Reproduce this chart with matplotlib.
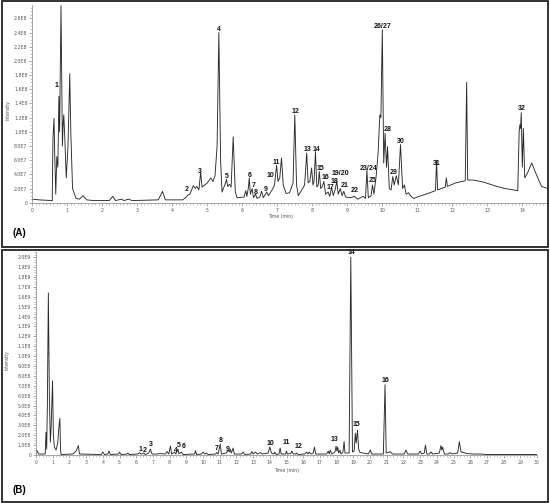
import matplotlib
matplotlib.use("Agg")
import matplotlib.pyplot as plt
from matplotlib.patches import Rectangle
from matplotlib.ticker import MultipleLocator, FuncFormatter
import numpy as np

# ---------------- Panel A data (time in min, intensity in 1E7) ----------------
a_time = [0.0, 0.2, 0.57, 0.59, 0.62, 0.64, 0.67, 0.70, 0.73, 0.76, 0.78, 0.82, 0.86, 0.88, 0.90, 0.93,
          0.97, 1.02, 1.07, 1.10, 1.15, 1.25, 1.35, 1.45, 1.55, 1.75, 2.2, 2.3, 2.38, 2.55, 2.62, 2.75,
          2.85, 3.6, 3.72, 3.8, 4.3, 4.4, 4.45, 4.5, 4.6, 4.66, 4.7, 4.76, 4.81, 4.85, 5.0, 5.1, 5.16,
          5.22, 5.28, 5.33, 5.38, 5.42, 5.50, 5.55, 5.58, 5.63, 5.68, 5.74, 5.80, 5.85, 6.05, 6.10,
          6.13, 6.17, 6.20, 6.23, 6.28, 6.32, 6.38, 6.42, 6.50, 6.55, 6.60, 6.70, 6.75, 6.85, 6.92,
          6.98, 7.02, 7.07, 7.12, 7.17, 7.25, 7.35, 7.45, 7.50, 7.55, 7.60, 7.70, 7.78, 7.84, 7.88,
          7.93, 7.98, 8.02, 8.05, 8.09, 8.13, 8.17, 8.20, 8.24, 8.29, 8.33, 8.38, 8.45, 8.50, 8.55,
          8.60, 8.65, 8.70, 8.74, 8.80, 8.85, 8.90, 8.95, 9.10, 9.20, 9.30, 9.45, 9.52, 9.56, 9.60,
          9.68, 9.72, 9.76, 9.82, 9.88, 9.93, 9.96, 10.0, 10.04, 10.08, 10.12, 10.15, 10.20, 10.25,
          10.30, 10.34, 10.40, 10.46, 10.52, 10.58, 10.63, 10.68, 10.75, 10.82, 10.90, 11.0, 11.3,
          11.52, 11.55, 11.58, 11.80, 11.83, 11.86, 12.1, 12.37, 12.41, 12.44, 12.6, 12.9, 13.2,
          13.5, 13.87, 13.91, 13.93, 13.95, 13.97, 14.0, 14.03, 14.07, 14.15, 14.27, 14.4, 14.55, 14.72]
a_int = [0.5, 0.4, 0.3, 9.0, 11.9, 7.0, 1.2, 6.5, 5.0, 15.0, 10.0, 27.8, 8.0, 11.0, 12.4, 9.0,
         3.5, 8.0, 18.2, 10.0, 2.0, 0.6, 0.5, 1.0, 0.4, 0.3, 0.3, 0.9, 0.3, 0.5, 0.3, 0.5,
         0.3, 0.4, 1.6, 0.4, 0.4, 0.8, 1.1, 1.2, 2.4, 2.0, 2.3, 1.8, 4.3, 2.2, 2.8, 3.5, 3.0,
         3.8, 8.0, 24.0, 6.0, 1.5, 2.5, 3.3, 2.3, 2.6, 2.2, 9.3, 1.5, 0.7, 0.8, 1.7,
         0.9, 2.0, 3.5, 1.2, 2.0, 0.7, 1.2, 0.6, 0.8, 1.6, 0.7, 1.5, 1.0, 1.8, 2.5,
         5.3, 3.0, 3.5, 6.3, 2.5, 1.3, 1.4, 2.8, 12.4, 2.5, 1.0, 1.8, 2.5, 7.0, 2.8,
         3.0, 4.9, 2.5, 3.0, 7.2, 2.2, 2.5, 4.4, 2.0, 2.3, 3.0, 1.2, 1.5, 0.9, 2.2,
         1.0, 1.8, 3.0, 1.2, 2.0, 1.0, 1.6, 0.8, 0.7, 0.9, 0.5, 0.9, 0.6, 4.6, 0.7,
         1.0, 2.5, 1.2, 3.5, 7.0, 12.4, 12.0, 24.4, 5.6, 9.8, 5.0, 7.9, 2.0, 1.8,
         3.7, 2.5, 3.8, 2.5, 8.2, 2.0, 2.5, 1.2, 1.4, 0.9, 0.6, 0.8, 1.3,
         1.7, 6.0, 1.8, 2.2, 3.5, 2.3, 2.8, 3.1, 17.0, 3.2, 3.2, 2.9, 2.4,
         2.0, 1.7, 10.0, 11.0, 10.5, 12.7, 5.0, 10.5, 3.5, 4.2, 5.6, 4.0, 2.3, 2.0]

a_labels = ["1", "2", "3", "4", "5", "6", "7", "8", "9", "10", "11", "12", "13", "14", "15", "16",
            "17", "18", "19/20", "21", "22", "23/24", "25", "26/27", "28", "29", "30", "31", "32"]
a_label_t = [0.70, 4.41, 4.79, 5.34, 5.55, 6.22, 6.31, 6.39, 6.68, 6.79, 6.98, 7.53, 7.86, 8.11, 8.24,
             8.38, 8.51, 8.62, 8.79, 8.91, 9.22, 9.60, 9.73, 10.0, 10.15, 10.31, 10.53, 11.55, 13.98]
a_label_y = [16.6, 1.8, 4.4, 24.4, 3.7, 3.9, 2.4, 1.4, 1.8, 3.8, 5.7, 12.8, 7.45, 7.55, 4.8,
             3.5, 2.1, 3.0, 4.15, 2.4, 1.7, 4.85, 3.1, 24.9, 10.3, 4.25, 8.6, 5.6, 13.3]

# ---------------- Panel B data (time in min, intensity in 1E8) ----------------
b_time = [0.0, 0.03, 0.08, 0.15, 0.55, 0.60, 0.64, 0.68, 0.74, 0.80, 0.86, 0.91, 0.99, 1.04, 1.10,
          1.20, 1.30, 1.38, 1.43, 1.47, 1.50, 2.2, 2.4, 2.54, 2.6, 3.9, 4.0, 4.1, 4.3, 4.37, 4.45,
          4.95, 5.0, 5.1, 5.45, 5.5, 5.6, 6.1, 6.2, 6.3, 6.45, 6.55, 6.75, 6.85, 6.95, 7.3, 7.4,
          7.75, 7.85, 7.95, 8.05, 8.12, 8.3, 8.37, 8.5, 8.56, 8.7, 8.8, 9.5, 9.55, 9.62, 9.9,
          10.0, 10.1, 10.2, 10.3, 10.75, 10.82, 10.9, 11.03, 11.1, 11.4, 11.5, 11.58, 11.63, 11.7,
          11.8, 11.88, 12.3, 12.4, 12.5, 12.85, 12.92, 13.0, 13.15, 13.25, 13.45, 13.55, 13.9,
          14.0, 14.1, 14.25, 14.3, 14.38, 14.55, 14.62, 14.68, 14.95, 15.0, 15.05, 15.25, 15.32,
          15.4, 15.55, 15.6, 15.7, 16.1, 16.2, 16.28, 16.35, 16.45, 16.6, 16.67, 16.75, 17.4,
          17.5, 17.56, 17.62, 17.7, 17.9, 17.97, 18.02, 18.07, 18.12, 18.2, 18.26, 18.38, 18.45,
          18.5, 18.75, 18.85, 18.95, 19.05, 19.12, 19.17, 19.25, 19.32, 19.4, 19.6, 19.9, 20.02,
          20.1, 20.8, 20.9, 20.97, 21.1, 21.2, 21.35, 22.05, 22.15, 22.25, 22.9, 23.0, 23.1,
          23.25, 23.32, 23.4, 23.55, 23.65, 23.75, 24.15, 24.25, 24.3, 24.35, 24.45, 24.7, 24.8,
          24.9, 25.25, 25.35, 25.45, 25.6, 25.8, 26.2, 26.6, 27.0, 30.0]
b_int = [0.1, 0.5, 0.4, 0.1, 0.1, 2.3, 0.6, 5.0, 16.4, 6.0, 1.3, 3.0, 7.5, 2.0, 0.8,
         0.5, 1.2, 3.0, 3.7, 0.5, 0.05, 0.1, 0.4, 0.95, 0.1, 0.05, 0.3, 0.05, 0.1, 0.4, 0.05,
         0.1, 0.3, 0.05, 0.1, 0.2, 0.05, 0.1, 0.25, 0.1, 0.2, 0.05, 0.2, 0.6, 0.1, 0.1, 0.15,
         0.1, 0.35, 0.1, 0.9, 0.1, 0.3, 0.1, 0.6, 0.1, 0.3, 0.05, 0.1, 0.45, 0.05, 0.1,
         0.3, 0.1, 0.2, 0.05, 0.1, 0.25, 0.1, 1.1, 0.1, 0.2, 0.5, 0.3, 0.6, 0.2,
         0.7, 0.1, 0.1, 0.3, 0.05, 0.1, 0.35, 0.1, 0.3, 0.1, 0.25, 0.1, 0.2,
         0.8, 0.2, 0.1, 0.3, 0.05, 0.1, 0.7, 0.1, 0.1, 0.4, 0.1, 0.15, 0.4,
         0.1, 0.1, 0.2, 0.05, 0.1, 0.3, 0.1, 0.3, 0.1, 0.2, 0.8, 0.1, 0.1,
         0.4, 0.1, 0.5, 0.1, 0.3, 0.9, 0.4, 0.8, 0.2, 0.5, 0.1, 0.3, 1.35,
         0.2, 0.2, 20.0, 0.3, 0.4, 2.2, 1.2, 2.5, 0.6, 0.25, 0.2, 0.1, 0.5,
         0.1, 0.1, 7.1, 0.2, 0.25, 0.35, 0.1, 0.1, 0.5, 0.1, 0.1, 0.4, 0.1,
         0.2, 1.0, 0.1, 0.1, 0.3, 0.1, 0.2, 0.95, 0.5, 0.8, 0.1, 0.1, 0.25,
         0.1, 0.2, 1.35, 0.3, 0.25, 0.15, 0.1, 0.1, 0.05, 0.05]

b_labels = ["1", "2", "3", "4", "5", "6", "7", "8", "9", "10", "11", "12", "13", "14", "15", "16"]
b_label_t = [6.23, 6.53, 6.87, 8.37, 8.56, 8.82, 10.82, 11.06, 11.46, 14.01, 15.01, 15.71, 17.9,
             18.86, 19.2, 20.92]
b_label_y = [0.58, 0.5, 1.08, 0.44, 1.0, 0.84, 0.68, 1.5, 0.6, 1.18, 1.25, 0.84, 1.6, 20.5, 3.1, 7.5]

# ---------------- figure ----------------
W, H = 550, 503
fig = plt.figure(figsize=(W / 100, H / 100), dpi=100)

def fbox(x0, y0, x1, y1):
    fig.patches.append(Rectangle((x0 / W, 1 - y1 / H), (x1 - x0) / W, (y1 - y0) / H,
                                 transform=fig.transFigure, fill=False, lw=1.3, ec="#222222"))

fbox(1.5, 1.5, 548, 247)
fbox(1.5, 250, 548, 501.5)

def sci(v, pos=None):
    if v <= 0:
        return "0"
    e = int(np.floor(np.log10(v) + 1e-9))
    m = v / 10 ** e
    return f"{m:.1f}E{e}"

lab_font = dict(family="Liberation Sans", fontsize=5, fontweight="bold", color="#111111")

def style(ax):
    for s in ("top", "right"):
        ax.spines[s].set_visible(False)
    for s in ("left", "bottom"):
        ax.spines[s].set_color("#999999")
        ax.spines[s].set_linewidth(0.6)
    ax.tick_params(which="major", length=2, width=0.5, color="#888888", pad=1.5,
                   labelsize=3.3, labelcolor="#555555")
    ax.tick_params(which="minor", length=1.2, width=0.4, color="#999999")
    ax.yaxis.set_major_formatter(FuncFormatter(sci))

# Panel A
axA = fig.add_axes([32.3 / W, (H - 202.7) / H, 14.72 * 35 / W, 198.1 / H])
axA.plot(a_time, np.array(a_int) * 1e7, color="#2a2a2a", lw=0.65)
axA.set_xlim(0, 14.72)
axA.xaxis.set_major_locator(MultipleLocator(1))
axA.xaxis.set_minor_locator(MultipleLocator(0.1))
axA.yaxis.set_major_locator(MultipleLocator(2e7))
axA.yaxis.set_minor_locator(MultipleLocator(5e6))
style(axA)
axA.set_ylim(0, 2.795e8)
axA.set_xlabel("Time (min)", fontsize=3.3, color="#555555")
axA.xaxis.set_label_coords((280 - 32.3) / 514.5, -0.055)
axA.set_ylabel("Intensity", fontsize=3.3, color="#555555")
axA.yaxis.set_label_coords(-0.043, 0.47)
for s, t, y in zip(a_labels, a_label_t, a_label_y):
    axA.text(t, y * 1e7, s, ha="center", va="center", clip_on=False, **lab_font)

# Panel B
axB = fig.add_axes([36 / W, 48 / H, 501 / W, 202.7 / H])
axB.plot(b_time, np.array(b_int) * 1e8, color="#2a2a2a", lw=0.65)
axB.set_xlim(0, 30)
axB.xaxis.set_major_locator(MultipleLocator(1))
axB.xaxis.set_minor_locator(MultipleLocator(0.2))
axB.yaxis.set_major_locator(MultipleLocator(1e8))
axB.yaxis.set_minor_locator(MultipleLocator(2.5e7))
style(axB)
axB.set_ylim(0, 2.05e9)
axB.set_xlabel("Time (min)", fontsize=3.3, color="#555555")
axB.xaxis.set_label_coords(0.50, -0.064)
axB.set_ylabel("Intensity", fontsize=3.3, color="#555555")
axB.yaxis.set_label_coords(-0.052, 0.47)
for s, t, y in zip(b_labels, b_label_t, b_label_y):
    axB.text(t, y * 1e8, s, ha="center", va="center", clip_on=False, **lab_font)

fig.text(12 / W, 1 - 233 / H, "(A)", fontsize=7, fontweight="bold", family="Liberation Sans",
         va="center", ha="left")
fig.text(12 / W, 1 - 490 / H, "(B)", fontsize=7, fontweight="bold", family="Liberation Sans",
         va="center", ha="left")

fig.savefig("out.png", dpi=100)
